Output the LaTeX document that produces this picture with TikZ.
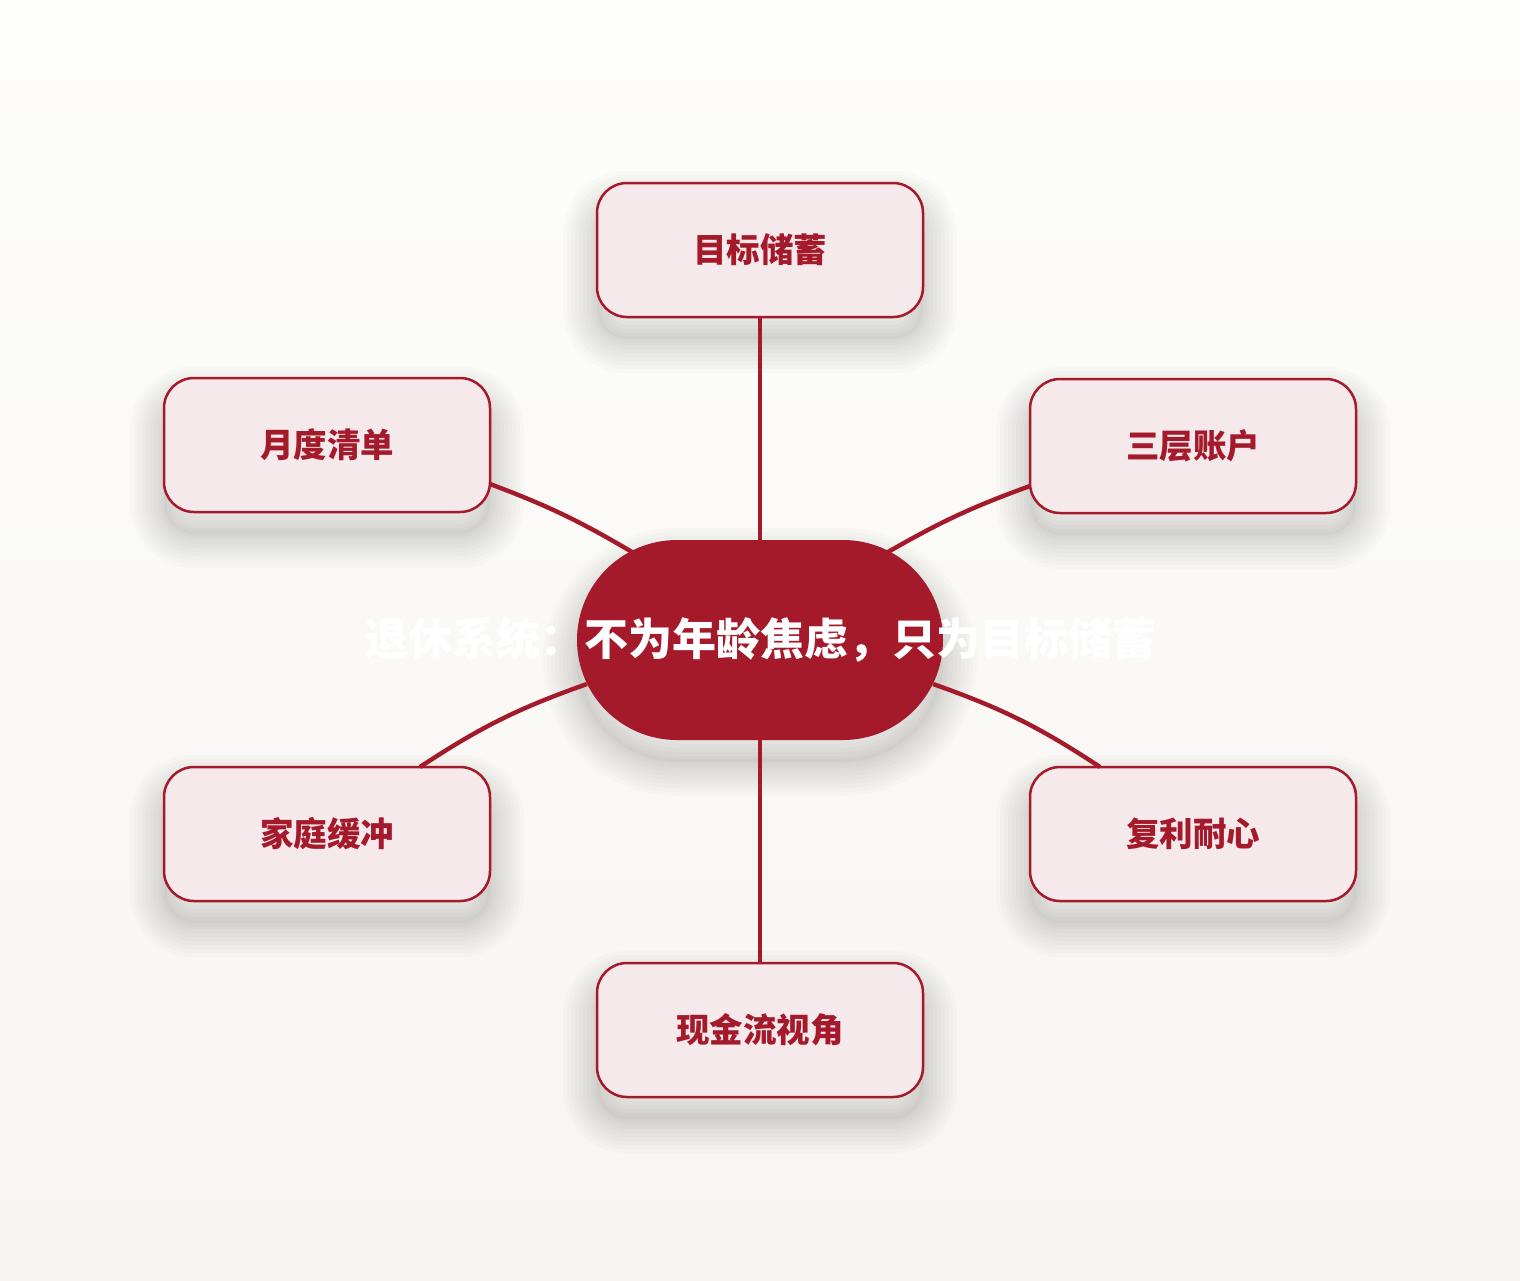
\documentclass[tikz,border=0pt]{standalone}
\usepackage{fontspec}
\newfontfamily\cjk{Noto Sans CJK SC}
\usetikzlibrary{calc}
\definecolor{dred}{RGB}{165,26,42}
\definecolor{boxfill}{RGB}{245,233,236}
\definecolor{bgtop}{RGB}{253,253,252}
\definecolor{bgbot}{RGB}{247,245,241}
\definecolor{shc}{RGB}{60,50,40}
\begin{document}
\begin{tikzpicture}[x=0.5pt,y=-0.5pt,
  shw/.style={preaction={draw=shc, opacity=0.02, line width=#1, transform canvas={yshift=-11pt}}},
  softshadow/.style={shw=34pt, shw=30pt, shw=26pt, shw=22pt, shw=18pt, shw=14pt, shw=10pt, shw=6pt, shw=3pt,
    preaction={fill=shc, opacity=0.03, transform canvas={yshift=-11pt}}},
  box/.style={softshadow, draw=dred, line width=1.25pt, fill=boxfill, rounded corners=15pt,
    minimum width=163pt, minimum height=67pt, inner sep=0pt, text=dred,
    font=\cjk\bfseries\fontsize{16.75}{20}\selectfont},
  hub/.style={softshadow, fill=dred, rounded corners=50pt, minimum width=183pt, minimum height=100pt, inner sep=0pt},
  hubtext/.style={text=white, font=\cjk\bfseries\fontsize{22}{26}\selectfont},
  conn/.style={draw=dred, line width=2.2pt},
]
\fill[top color=bgtop, bottom color=bgbot] (0,0) rectangle (1520,1280);
\useasboundingbox (0,0) rectangle (1520,1280);

\node[box] (mt) at (760,250) {目标储蓄};
\node[box] (ml) at (327,445) {月度清单};
\node[box] (mr) at (1193,446) {三层账户};
\node[box] (bl) at (327,834) {家庭缓冲};
\node[box] (br) at (1193,834) {复利耐心};
\node[box] (mb) at (760,1030) {现金流视角};
\node[hub, label={[hubtext]center:{退休系统：不为年龄焦虑，只为目标储蓄}}] (c) at (760,640) {};

\draw[conn] (c.north) -- (mt.south);
\draw[conn] (c.south) -- (mb.north);
\draw[conn] ($(ml.center)+(163,39)$) to[bend left=5] ($(c.center)+(-128,-88)$);
\draw[conn] ($(mr.center)+(-163,40)$) to[bend right=5] ($(c.center)+(128,-88)$);
\draw[conn] ($(c.center)+(-173,44)$) to[bend right=7] ($(bl.center)+(93,-67)$);
\draw[conn] ($(c.center)+(173,44)$) to[bend left=7] ($(br.center)+(-93,-67)$);
\end{tikzpicture}
\end{document}
